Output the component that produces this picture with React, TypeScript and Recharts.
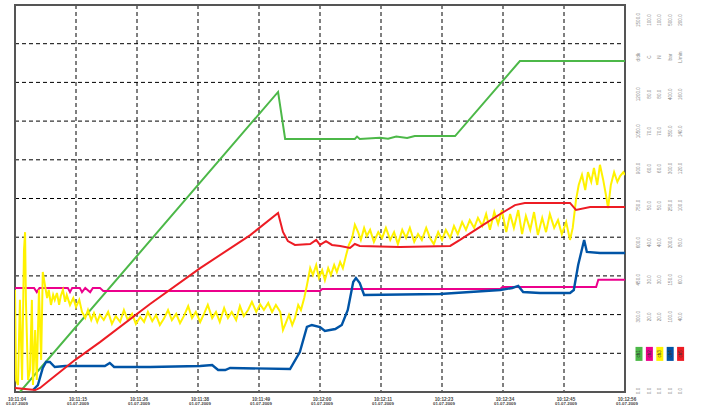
import React from 'react';
import { LineChart, Line, XAxis, YAxis, CartesianGrid, ReferenceArea } from 'recharts';

// time axis (seconds from 10:11:04)
const timeTicks = [0, 11.2, 22.4, 33.6, 44.8, 56, 67.2, 78.4, 89.6, 100.8, 112];
const timeLabels = ['10:11:04', '10:11:15', '10:11:26', '10:11:38', '10:11:49', '10:12:00', '10:12:11', '10:12:23', '10:12:34', '10:12:45', '10:12:56'];
const dateLabel = '01.07.2009';

// channels
const channelNames = ['ch1', 'ch2', 'ch3', 'ch4', 'ch5'];
const channelColors = ['#4cb848', '#ec008c', '#fff200', '#0054a6', '#ed1c24'];
const channelMax = [1500, 100, 100, 500, 200];
const channelUnits = ['d/dk', 'C', 'N', 'bar', 'L/min'];
const ch1Ticks = [0, 150, 300, 450, 600, 750, 900, 1050, 1200, 1350, 1500];
const labelRows = [0, 1, 2, 3, 4, 5, 6, 7, 8, 9, 10];

// series: [seconds, value]
const ch1Points: [number, number][] = [
  [0.9, 0], [48.3, 1163], [49.6, 981], [62.4, 981], [62.8, 990], [63.3, 981], [67.0, 985], [68.5, 982],
  [70.0, 990], [72.0, 985], [73.4, 992], [80.8, 992], [92.7, 1283], [112, 1283],
];
const ch2Points: [number, number][] = [
  [0, 26.9], [3.5, 26.9], [4.0, 25.8], [4.5, 26.9], [9.7, 26.9], [10.1, 25.8], [10.5, 26.9], [11.9, 26.9],
  [12.3, 25.8], [12.9, 26.9], [13.8, 25.8], [14.3, 26.9], [15.6, 26.9], [16.2, 26.1], [56.0, 26.1], [56.4, 26.6],
  [89.1, 26.6], [89.5, 27.1], [106.7, 27.1], [107.1, 29.0], [112, 29.0],
];
const ch3Points: [number, number][] = [
  [0, 26.4], [0.2, 3.1], [0.55, 1.8], [0.9, 23.8], [1.3, 3.1], [1.65, 36.7], [1.85, 41.3], [2.0, 23.8], [2.4, 3.1],
  [2.75, 5.7], [3.1, 23.8], [3.3, 1.8], [3.7, 16.0], [4.0, 3.1], [4.4, 26.4], [4.8, 8.3], [5.1, 31.0], [5.5, 27.6],
  [5.9, 24.3], [6.2, 26.4], [6.6, 22.5], [7.0, 25.1], [7.3, 23.8], [7.7, 25.6], [8.1, 22.5], [8.4, 24.8], [8.8, 26.4],
  [9.2, 23.3], [9.5, 25.1], [10.1, 22.5], [10.7, 24.3], [11.2, 22.0], [11.8, 23.8], [12.3, 20.7], [12.9, 19.1],
  [13.4, 21.2], [14.0, 18.6], [14.5, 20.4], [15.1, 18.1], [15.6, 19.9], [16.3, 18.6], [17.1, 20.7], [17.8, 17.6],
  [18.5, 19.6], [19.3, 18.1], [20.0, 21.2], [20.7, 18.6], [21.5, 20.2], [22.2, 17.6], [23.0, 19.4], [23.7, 18.1],
  [24.4, 20.7], [25.2, 18.3], [25.9, 19.9], [26.6, 17.3], [27.4, 19.1], [28.1, 21.2], [28.8, 18.6], [29.6, 20.2],
  [30.3, 17.8], [31.0, 19.6], [31.8, 22.2], [32.5, 19.1], [33.2, 20.7], [34.0, 18.1], [34.7, 20.2], [35.4, 22.5],
  [36.2, 19.1], [36.9, 20.7], [37.6, 18.1], [38.4, 21.7], [39.1, 19.1], [39.8, 20.7], [40.6, 18.6], [41.3, 22.2],
  [42.0, 19.6], [42.8, 21.2], [43.5, 23.3], [44.3, 20.7], [45.0, 22.7], [45.7, 21.2], [46.5, 23.0], [47.2, 20.7],
  [47.9, 22.5], [48.7, 20.7], [49.2, 16.0], [49.8, 18.1], [50.3, 19.9], [50.9, 17.3], [51.4, 19.1], [52.0, 22.5],
  [52.5, 21.2], [53.1, 24.3], [53.6, 27.6], [54.2, 32.0], [54.7, 30.2], [55.3, 32.8], [55.8, 29.5], [56.4, 31.5],
  [56.9, 28.9], [57.5, 32.0], [58.0, 30.2], [58.6, 32.8], [59.1, 31.0], [59.7, 33.6], [60.2, 32.0], [60.8, 35.4],
  [61.3, 38.0], [61.9, 39.8], [62.4, 43.2], [63.0, 41.3], [63.5, 39.3], [64.1, 42.4], [64.6, 40.3], [65.2, 41.9],
  [65.9, 38.8], [66.7, 41.3], [67.4, 39.8], [68.1, 42.4], [68.9, 39.3], [69.6, 41.3], [70.3, 38.2], [71.1, 41.9],
  [71.8, 39.8], [72.5, 42.4], [73.3, 38.8], [74.0, 40.8], [74.7, 39.3], [75.5, 42.4], [76.2, 39.8], [76.9, 38.2],
  [77.7, 41.3], [78.4, 39.3], [79.1, 41.9], [79.9, 39.8], [80.6, 42.9], [81.3, 40.8], [82.1, 43.9], [82.8, 41.9],
  [83.5, 44.4], [84.3, 42.4], [85.0, 45.0], [85.8, 42.9], [86.5, 46.0], [87.2, 41.9], [88.0, 46.5], [88.7, 43.4],
  [89.4, 47.0], [90.2, 41.3], [90.9, 46.0], [91.6, 42.4], [92.4, 47.0], [93.1, 40.8], [93.8, 45.5], [94.6, 41.9],
  [95.3, 46.5], [96.0, 40.6], [96.8, 45.0], [97.5, 41.3], [98.2, 46.0], [99.0, 42.4], [99.7, 44.4], [100.4, 40.8],
  [101.2, 43.9], [101.9, 39.3], [102.4, 42.4], [103.0, 49.6], [103.5, 53.5], [104.1, 56.1], [104.7, 52.2],
  [105.2, 56.8], [105.8, 54.3], [106.3, 57.9], [106.9, 53.5], [107.4, 58.7], [108.0, 54.8], [108.5, 50.9],
  [108.9, 47.5], [109.4, 53.5], [110.0, 56.8], [110.6, 54.3], [111.1, 55.8], [111.7, 56.8], [112, 56.1],
];
const ch4Points: [number, number][] = [
  [3.3, 2.6], [4.2, 9.0], [5.1, 31.0], [5.7, 38.8], [6.4, 38.8], [7.3, 32.3], [9.2, 33.6], [16.5, 33.6], [17.4, 37.5],
  [18.2, 32.3], [24.8, 32.3], [34.0, 33.6], [36.2, 34.9], [37.3, 28.4], [38.6, 28.4], [39.5, 31.0], [50.5, 29.7],
  [52.3, 51.7], [53.6, 84.0], [54.5, 86.6], [56.0, 84.0], [56.9, 78.8], [58.8, 81.4], [60.0, 86.6], [61.1, 105.9],
  [62.1, 142.1], [62.6, 147.3], [63.3, 140.8], [64.1, 125.3], [78.0, 126.6], [89.1, 131.8], [91.3, 134.4],
  [92.4, 137.0], [93.3, 129.2], [96.4, 127.9], [101.9, 127.9], [102.6, 131.8], [103.4, 164.1], [104.5, 196.4],
  [105.0, 180.9], [107.4, 179.6], [112, 179.6],
];
const ch5Points: [number, number][] = [
  [0, 2.1], [3.7, 1.0], [4.6, 2.1], [6.4, 6.2], [11.0, 16.5], [15.6, 25.8], [24.8, 45.5], [34.0, 64.0], [43.2, 81.1],
  [48.3, 92.5], [49.2, 82.7], [50.1, 78.0], [51.4, 76.0], [54.2, 76.5], [55.3, 78.6], [56.0, 76.0], [57.1, 78.0],
  [58.2, 76.0], [59.7, 75.5], [61.5, 74.4], [62.4, 76.5], [63.3, 75.5], [70.7, 74.9], [79.9, 75.5], [81.7, 78.6],
  [85.4, 85.3], [89.1, 92.0], [91.8, 96.6], [93.6, 97.7], [101.9, 97.7], [103.0, 94.1], [105.6, 95.6], [112, 95.6],
];

const allPoints = [ch1Points, ch2Points, ch3Points, ch4Points, ch5Points];
const seriesData = allPoints.map((pts) => pts.map(([t, v]) => ({ t, v })));

const FONT = 'Liberation Sans, Arial, sans-serif';

const XTick = (props: any) => {
  const { x, y, payload } = props;
  const i = timeTicks.indexOf(payload.value);
  return (
    <g>
      <text x={x + 2} y={y + 8.5} textAnchor="middle" fontSize={4.6} fontWeight="bold" fill="#444" fontFamily={FONT}>
        {timeLabels[i]}
      </text>
      <text x={x + 2} y={y + 13} textAnchor="middle" fontSize={4.4} fontWeight="bold" fill="#444" fontFamily={FONT}>
        {dateLabel}
      </text>
    </g>
  );
};

const RowTick = (props: any) => {
  const { x, y, payload } = props;
  const row = payload.value as number;
  return (
    <g>
      {channelNames.map((name, c) => {
        const cx = x + 14 + c * 10.4;
        if (row === 1) {
          return (
            <g key={name}>
              <rect x={cx - 3.5} y={y - 7} width={7} height={14} fill={channelColors[c]} />
              <text x={cx} y={y} transform={`rotate(-90, ${cx}, ${y})`} textAnchor="middle" dominantBaseline="central"
                fontSize={4.6} fill="#333" fontFamily={FONT}>{name}</text>
            </g>
          );
        }
        const label = row === 9 ? channelUnits[c] : ((channelMax[c] * row) / 10).toFixed(1);
        return (
          <text key={name} x={cx} y={y} transform={`rotate(-90, ${cx}, ${y})`} textAnchor="middle" dominantBaseline="central"
            fontSize={4.6} fill="#888" fontFamily={FONT}>{label}</text>
        );
      })}
    </g>
  );
};

export default function App() {
  return (
    <div style={{ position: 'absolute', left: 0, top: 0, background: '#fff' }}>
      <LineChart width={712} height={405} margin={{ top: 5, right: 0, left: 15, bottom: 0 }}>
        <XAxis dataKey="t" type="number" domain={[0, 112]} ticks={timeTicks} height={13} tickSize={0} tickMargin={0}
          axisLine={false} tickLine={false} tick={<XTick />} interval={0} allowDataOverflow />
        <YAxis yAxisId="ch1" domain={[0, 1500]} ticks={ch1Ticks} hide allowDataOverflow />
        <YAxis yAxisId="ch2" domain={[0, 100]} hide allowDataOverflow />
        <YAxis yAxisId="ch3" domain={[0, 100]} hide allowDataOverflow />
        <YAxis yAxisId="ch4" domain={[0, 500]} hide allowDataOverflow />
        <YAxis yAxisId="ch5" domain={[0, 200]} hide allowDataOverflow />
        <YAxis yAxisId="labels" orientation="right" width={87} domain={[-0.027, 10.404]} ticks={labelRows} interval={0}
          allowDataOverflow axisLine={false} tickLine={false} tickSize={0} tickMargin={0} tick={<RowTick />} />
        <CartesianGrid yAxisId="ch1" stroke="#000" strokeDasharray="4 3" strokeWidth={1} />
        <ReferenceArea yAxisId="ch1" x1={0} x2={112} y1={0} y2={1500} fill="none" stroke="#555" strokeWidth={2} />
        {seriesData.map((d, c) => (
          <Line key={channelNames[c]} data={d} dataKey="v" yAxisId={channelNames[c]} type="linear"
            stroke={channelColors[c]} strokeWidth={c === 3 ? 2.4 : 2} dot={false} isAnimationActive={false} />
        ))}
      </LineChart>
    </div>
  );
}
